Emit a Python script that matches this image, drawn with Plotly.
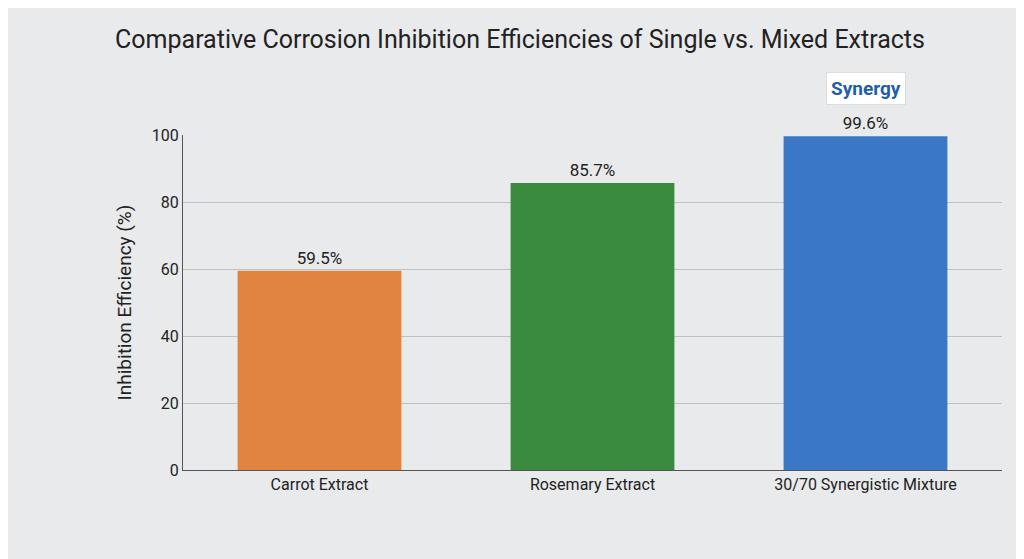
import pandas as pd
import plotly.express as px

print("Processando os dados para o gráfico...")

# 1. Montamos a tabela com os valores de eficiência
df = pd.DataFrame({
    'Extrato': ['Carrot Extract', 'Rosemary Extract', '30/70 Synergistic Mixture'],
    'Eficiência': [59.5, 85.7, 99.6],
})

# 2. Criamos o gráfico de barras
fig = px.bar(
    df,
    x='Extrato',
    y='Eficiência',
    title='Comparative Corrosion Inhibition Efficiencies of Single vs. Mixed Extracts',
    text=[f'{v}%' for v in df['Eficiência']], # Rótulo com o percentual no topo
    color='Extrato',
    color_discrete_sequence=['#E0843F', '#3A8A40', '#3A78C6'],
    template='plotly_white'
)

# 3. Ajustes finos de design
fig.update_traces(
    textposition='outside',
    textfont_size=17,
    textfont_color='#222222',
    marker_line_width=0,
    cliponaxis=False
)

# Caixinha "Synergy" em cima da barra da mistura
fig.add_annotation(
    x='30/70 Synergistic Mixture', y=99.6, yshift=48,
    text='<b>Synergy</b>', showarrow=False,
    font=dict(size=19, color='#1F5FA8'),
    bgcolor='white', bordercolor='#dddddd', borderwidth=1, borderpad=4
)

fig.update_layout(
    title=dict(x=0.5, y=0.96, font=dict(size=25, color='#222222')),
    font=dict(family='Roboto', size=16, color='#222222'),
    paper_bgcolor='#e9eaec',
    plot_bgcolor='#e9eaec',
    xaxis_title='',
    yaxis_title='Inhibition Efficiency (%)',
    yaxis=dict(range=[0, 100], dtick=20, gridcolor='#bfc1c4', showline=True,
               linecolor='#555555', zeroline=False),
    xaxis=dict(showline=True, linecolor='#555555'),
    showlegend=False,
    bargap=0.4,
    margin=dict(t=127, b=97, l=175, r=30),
    width=1024,
    height=559
)

print("Gráfico pronto! Salvando...")

# 4. Gravamos o arquivo HTML
fig.write_html("out.html")
